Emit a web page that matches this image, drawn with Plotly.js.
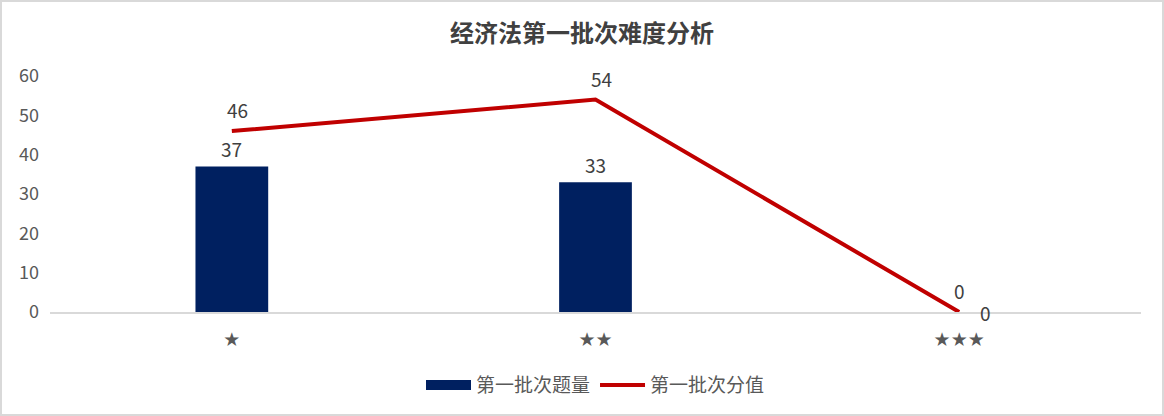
<!DOCTYPE html>
<html>
<head>
<meta charset="utf-8">
<script src="https://cdn.plot.ly/plotly-3.0.1.min.js"></script>
<style>
html,body{margin:0;padding:0;background:#fff;}
#chart{width:1164px;height:416px;position:relative;}
#frame{position:absolute;left:0;top:0;width:1164px;height:416px;box-sizing:border-box;border:2px solid #d9d9d9;pointer-events:none;}
</style>
</head>
<body>
<div id="chart"></div>
<div id="frame"></div>
<script>
const categories = ['★', '★★', '★★★'];
const questionCounts = [37, 33, 0];
const scoreValues = [46, 54, 0];
const seriesNames = ['第一批次题量', '第一批次分值'];
const titleText = '经济法第一批次难度分析';

const FONT = '"Noto Sans CJK SC", "Microsoft YaHei", sans-serif';
const TXT = '#595959';
const BAR = '#002060';
const LINE = '#C00000';

const annotations = [];
categories.forEach((c, i) => {
  const v = questionCounts[i];
  annotations.push({
    x: c, y: v, xref: 'x', yref: 'y', text: String(v), showarrow: false,
    yanchor: v === 0 ? 'middle' : 'bottom',
    xshift: v === 0 ? 26 : 0, yshift: v === 0 ? 0 : 2,
    font: {family: FONT, size: 19, color: '#404040'}
  });
  const s = scoreValues[i];
  annotations.push({
    x: c, y: s, xref: 'x', yref: 'y', text: String(s), showarrow: false,
    yanchor: 'bottom', xshift: s === 0 ? 0 : 6, yshift: 6,
    font: {family: FONT, size: 19, color: '#404040'}
  });
});

const data = [
  {
    type: 'bar', name: seriesNames[0], x: categories, y: questionCounts,
    width: 0.2, marker: {color: BAR}, showlegend: false, hoverinfo: 'x+y'
  },
  {
    type: 'scatter', mode: 'lines', name: seriesNames[0], x: [null], y: [null],
    line: {color: BAR, width: 11}, legendrank: 1, showlegend: true, hoverinfo: 'skip'
  },
  {
    type: 'scatter', mode: 'lines', name: seriesNames[1], x: categories, y: scoreValues,
    line: {color: LINE, width: 4}, legendrank: 2, hoverinfo: 'x+y'
  }
];

const layout = {
  width: 1164, height: 416,
  margin: {l: 50, r: 23, t: 76, b: 100},
  paper_bgcolor: '#fff', plot_bgcolor: '#fff',
  font: {family: FONT, color: TXT, size: 16},
  title: {text: '<b>' + titleText + '</b>', x: 0.5, xanchor: 'center', y: 0.92, yanchor: 'middle',
          font: {family: FONT, size: 24, color: '#404040'}},
  showlegend: true,
  legend: {orientation: 'h', x: 0.5, xanchor: 'center', y: -0.31, yanchor: 'middle',
           font: {family: FONT, size: 19, color: TXT}, traceorder: 'normal', itemwidth: 45},
  xaxis: {
    type: 'category', range: [-0.5, 2.5], showgrid: false, zeroline: false,
    showline: true, linecolor: '#d9d9d9', linewidth: 1.5, ticks: '',
    tickfont: {family: 'DejaVu Sans', size: 19, color: TXT}, ticklabelstandoff: 10
  },
  yaxis: {
    range: [0, 60], dtick: 10, showgrid: false, zeroline: false, showline: false,
    ticks: '', tickfont: {family: FONT, size: 18, color: TXT}, ticklabelstandoff: 10
  },
  annotations: annotations
};

Plotly.newPlot('chart', data, layout, {displayModeBar: false, staticPlot: true});
</script>
</body>
</html>
